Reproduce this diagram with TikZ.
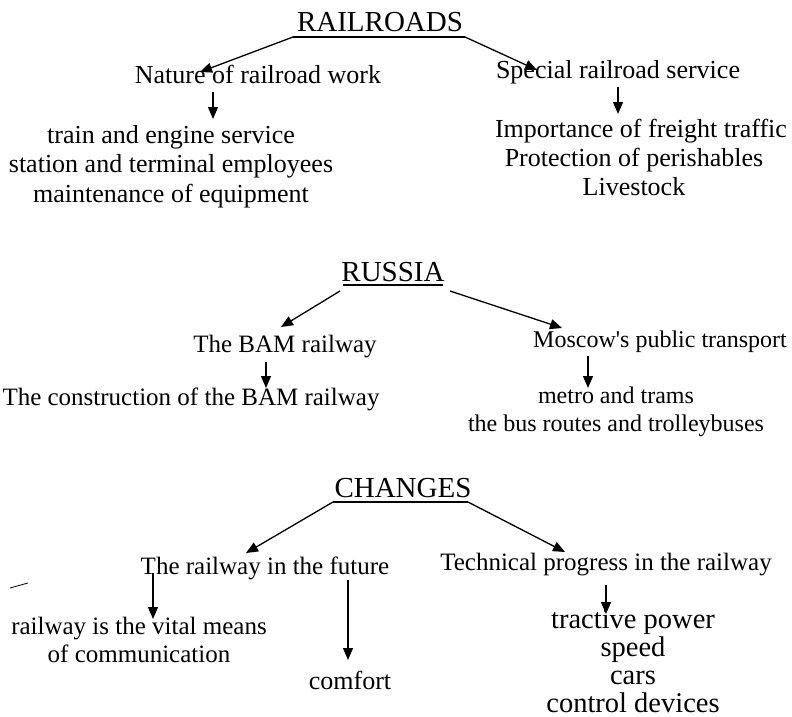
\documentclass[tikz,border=0pt]{standalone}
\usepackage{fontspec}
\setmainfont{Liberation Serif}
\usetikzlibrary{arrows.meta}
\newcommand{\straightapos}{\XeTeXglyph\XeTeXcharglyph"0027\relax}
\begin{document}
\begin{tikzpicture}[x=1pt,y=-1pt,
  txt/.style={inner sep=0pt,anchor=base,align=center,font=\fontsize{26}{29.5}\selectfont},
  txtm/.style={txt,font=\fontsize{25}{28}\selectfont},
  txts/.style={txt,font=\fontsize{24}{28}\selectfont},
  txtl/.style={txt,font=\fontsize{28.5}{28}\selectfont},
  ttl/.style={inner sep=0pt,anchor=base,font=\fontsize{29}{32}\selectfont},
  arr/.style={line width=1.3pt,-{Triangle[length=12pt,width=10pt]}},
  uline/.style={line width=1.2pt}]
\useasboundingbox (0,0) rectangle (792,717);
% RAILROADS
\node[ttl] (rr) at (380,32) {RAILROADS};
\coordinate (rrL) at (293,37);
\coordinate (rrR) at (465,37);
\draw[uline] (rrL) -- (rrR);
\node[txt] (nat) at (258,84) {Nature of railroad work};
\node[txt] (spe) at (618,78) {Special railroad service};
\coordinate (natT) at (200,72);
\coordinate (speT) at (537,70);
\draw[arr] (rrL) -- (natT);
\draw[arr] (rrR) -- (speT);
\node[txt] (natL) at (171,202) {train and engine service\\station and terminal employees\\maintenance of equipment};
\node[txt,font=\fontsize{26}{29}\selectfont] (speL) at (634,195) {\hspace*{14pt}Importance of freight traffic\\Protection of perishables\\Livestock};
\coordinate (natA) at (213,92);
\coordinate (natB) at (213,119);
\coordinate (speA) at (618,87);
\coordinate (speB) at (618,114);
\draw[arr] (natA) -- (natB);
\draw[arr] (speA) -- (speB);
% RUSSIA
\node[ttl] (ru) at (393,281) {RUSSIA};
\coordinate (ruL) at (343,285);
\coordinate (ruR) at (443,285);
\draw[uline] (ruL) -- (ruR);
\node[txtm] (bam) at (285,352) {The BAM railway};
\node[txts] (mos) at (660,347) {Moscow\straightapos s public transport};
\draw[arr] (340,291) -- (281,327);
\draw[arr] (450,291) -- (562,328);
\node[txtm] (bamL) at (191,405) {The construction of the BAM railway};
\node[txts] (mosL) at (616,431) {metro and trams\\the bus routes and trolleybuses};
\draw[arr] (266,362) -- (266,388);
\draw[arr] (588,356) -- (588,388);
% CHANGES
\node[ttl] (ch) at (403,497) {CHANGES};
\coordinate (chL) at (333,502);
\coordinate (chR) at (468,502);
\draw[uline] (chL) -- (chR);
\node[txtm] (fut) at (265,574) {The railway in the future};
\node[txtm] (tec) at (606,570) {Technical progress in the railway};
\draw[arr] (chL) -- (246,553);
\draw[arr] (chR) -- (565,552);
\node[txtm] (vit) at (139,662) {railway is the vital means\\of communication};
\node[txt] (com) at (350,689) {comfort};
\node[txtl] (tecL) at (633,712) {tractive power\\speed\\cars\\control devices};
\draw[arr] (153,573) -- (153,619);
\draw[arr] (348,580) -- (348,660);
\draw[arr] (606,585) -- (606,614);
% stray mark
\draw[line width=0.8pt] (10,588) -- (28,583);
\end{tikzpicture}
\end{document}
